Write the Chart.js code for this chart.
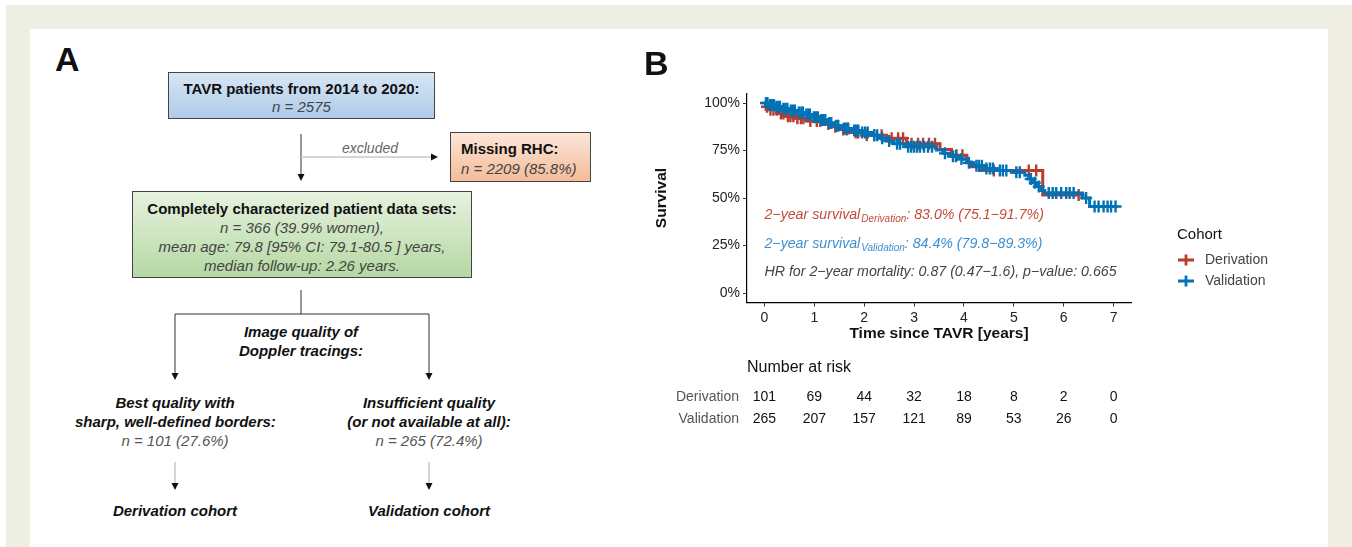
<!DOCTYPE html>
<html>
<head>
<meta charset="utf-8">
<script src="https://cdn.jsdelivr.net/npm/chart.js@4"></script>
<style>
  html, body { margin: 0; padding: 0; width: 1352px; height: 547px; overflow: hidden; background: #fff; }
  body { position: relative; font-family: 'Liberation Sans', Arial, sans-serif; }
  #frame { position: absolute; left: 6px; top: 5px; width: 1346px; height: 542px; background: #EEEEE3; }
  #panel { position: absolute; left: 30px; top: 29px; width: 1298px; height: 518px; background: #fff; }
  .abs { position: absolute; }
  .box { position: absolute; border: 1px solid #444; box-sizing: border-box; font-size: 15px; color: #111; }
  .box b { font-weight: bold; }
  .box i { color: #444; }
  .lbl { position: absolute; text-align: center; font-size: 15px; font-weight: bold; font-style: italic; color: #111; line-height: 19px; white-space: nowrap; }
  .lbl .n { font-weight: normal; color: #555; }
  #chartB { position: absolute; left: 640px; top: 30px; }
</style>
</head>
<body>
<div id="frame"></div>
<div id="panel"></div>

<!-- panel A: flow chart -->
<div class="abs" style="left:55px;top:40px;font-size:34px;font-weight:bold;color:#111;">A</div>

<div class="box" style="left:168px;top:72px;width:267px;height:47px;background:linear-gradient(#D7E6F5,#AECBE9);text-align:center;line-height:18px;padding-top:7px;">
  <b>TAVR patients from 2014 to 2020:</b><br><i>n = 2575</i>
</div>

<div class="box" style="left:450px;top:132px;width:141px;height:50px;background:linear-gradient(#FCE6D8,#F4BC9A);line-height:20px;padding-top:6px;padding-left:10px;">
  <b>Missing RHC:</b><br><i>n = 2209 (85.8%)</i>
</div>

<div class="box" style="left:132px;top:191px;width:340px;height:87px;background:linear-gradient(#E6F2DF,#B5D8A3);text-align:center;line-height:19px;padding-top:7px;">
  <b>Completely characterized patient data sets:</b><br>
  <i>n = 366 (39.9% women),</i><br>
  <i>mean age: 79.8 [95% CI: 79.1-80.5 ] years,</i><br>
  <i>median follow-up: 2.26 years.</i>
</div>

<svg class="abs" style="left:0;top:0;" width="640" height="547">
  <g stroke="#333" stroke-width="1" fill="none">
    <line x1="301" y1="134" x2="301" y2="174"/>
    <line x1="301" y1="290" x2="301" y2="314"/>
    <line x1="175" y1="314" x2="429" y2="314"/>
    <line x1="175" y1="314" x2="175" y2="373"/>
    <line x1="429" y1="314" x2="429" y2="373"/>
  </g>
  <g stroke="#C8C8C8" stroke-width="1.5" fill="none">
    <line x1="301" y1="157" x2="431" y2="157"/>
    <line x1="175" y1="462" x2="175" y2="483"/>
    <line x1="429" y1="462" x2="429" y2="483"/>
  </g>
  <g fill="#111">
    <polygon points="297.5,174 304.5,174 301,181"/>
    <polygon points="431,153.5 431,160.5 438,157"/>
    <polygon points="171.5,373 178.5,373 175,380"/>
    <polygon points="425.5,373 432.5,373 429,380"/>
    <polygon points="171.5,483 178.5,483 175,490"/>
    <polygon points="425.5,483 432.5,483 429,490"/>
  </g>
  <text x="370" y="153" text-anchor="middle" font-size="14" font-style="italic" fill="#666" font-family="Liberation Sans, Arial, sans-serif">excluded</text>
</svg>

<div class="lbl" style="left:201px;top:322px;width:200px;">Image quality of<br>Doppler tracings:</div>
<div class="lbl" style="left:75px;top:393px;width:200px;">Best quality with<br>sharp, well-defined borders:<br><span class="n">n = 101 (27.6%)</span></div>
<div class="lbl" style="left:329px;top:393px;width:200px;">Insufficient quality<br>(or not available at all):<br><span class="n">n = 265 (72.4%)</span></div>
<div class="lbl" style="left:75px;top:501px;width:200px;">Derivation cohort</div>
<div class="lbl" style="left:329px;top:501px;width:200px;">Validation cohort</div>

<!-- panel B: Kaplan-Meier chart -->
<canvas id="chartB" width="688" height="517"></canvas>

<script>
// Kaplan-Meier steps (time in years, survival after the step)
const derivTimes = [0, 0.04, 0.1, 0.28, 0.4, 0.62, 0.85, 1.2, 1.35, 1.5, 1.7, 1.95, 2.45, 2.85, 3.52, 3.75, 4.05, 4.15, 4.32, 5.58, 6.3];
const derivSurv  = [1.0, 0.98, 0.965, 0.945, 0.93, 0.92, 0.905, 0.89, 0.875, 0.86, 0.845, 0.83, 0.815, 0.785, 0.755, 0.725, 0.69, 0.665, 0.645, 0.516, 0.516];
const derivCensor = [0.05, 0.12, 0.18, 0.25, 0.33, 0.38, 0.47, 0.52, 0.58, 0.66, 0.73, 0.78, 0.92, 1.05, 1.12, 1.28, 1.42, 1.58, 1.65, 1.83, 1.88,
  2.05, 2.2, 2.35, 2.55, 2.68, 2.78, 2.95, 3.08, 3.18, 3.3, 3.42, 3.85, 3.97, 4.6, 5.3, 5.45, 6.3];

const validTimes = [0, 0.08, 0.2, 0.35, 0.5, 0.65, 0.8, 0.95, 1.1, 1.25, 1.4, 1.55, 1.75, 1.92, 2.15, 2.3, 2.45, 2.6, 2.8, 3.45, 3.58, 3.7,
  3.9, 4.05, 4.2, 4.4, 4.65, 4.95, 5.22, 5.3, 5.38, 5.46, 5.55, 5.62, 6.38, 6.52, 7.08];
const validSurv  = [1.0, 0.99, 0.98, 0.97, 0.96, 0.95, 0.94, 0.925, 0.91, 0.895, 0.88, 0.866, 0.855, 0.845, 0.83, 0.815, 0.8, 0.785, 0.77, 0.753, 0.735, 0.72,
  0.705, 0.685, 0.67, 0.655, 0.645, 0.635, 0.62, 0.6, 0.58, 0.56, 0.54, 0.526, 0.5, 0.455, 0.455];
const validCensor = [0.03, 0.06, 0.11, 0.15, 0.19, 0.24, 0.28, 0.31, 0.38, 0.42, 0.46, 0.53, 0.57, 0.61, 0.69, 0.74, 0.77, 0.84, 0.88, 0.91, 0.99,
  1.03, 1.07, 1.14, 1.18, 1.22, 1.3, 1.34, 1.44, 1.48, 1.6, 1.64, 1.68, 1.8, 1.84, 1.88, 1.96, 2.02, 2.07, 2.2, 2.26, 2.36, 2.5, 2.66, 2.72,
  2.88, 2.94, 3.0, 3.06, 3.12, 3.2, 3.28, 3.36, 3.62, 3.78, 3.84, 3.95, 4.1, 4.25, 4.3, 4.36, 4.45, 4.52, 4.58, 4.72, 4.78, 4.85, 5.05, 5.12,
  5.34, 5.42, 5.5, 5.7, 5.78, 5.85, 5.95, 6.05, 6.12, 6.2, 6.45, 6.62, 6.7, 6.8, 6.88, 6.95, 7.04];

const xTicks = [0, 1, 2, 3, 4, 5, 6, 7];
const yTicks = [0, 0.25, 0.5, 0.75, 1];

const riskTimes = [0, 1, 2, 3, 4, 5, 6, 7];
const riskDeriv = [101, 69, 44, 32, 18, 8, 2, 0];
const riskValid = [265, 207, 157, 121, 89, 53, 26, 0];

const derivColor = '#BC3C29';
const validColor = '#0072B5';
const fontFamily = "'Liberation Sans', Arial, sans-serif";

function stepPoints(times, surv) {
    return times.map((t, i) => ({ x: t, y: surv[i] }));
}

function survAt(times, surv, t) {
    let s = surv[0];
    for (let i = 0; i < times.length; i++) {
        if (times[i] <= t) s = surv[i];
    }
    return s;
}

function censorPoints(censor, times, surv) {
    return censor.map(t => ({ x: t, y: survAt(times, surv, t) }));
}

const extrasPlugin = {
    id: 'kmExtras',
    afterDraw(chart) {
        const ctx = chart.ctx;
        const area = chart.chartArea;
        const xs = chart.scales.x;
        const ys = chart.scales.y;
        ctx.save();

        // panel letter
        ctx.fillStyle = '#111';
        ctx.font = 'bold 34px ' + fontFamily;
        ctx.textAlign = 'left';
        ctx.textBaseline = 'alphabetic';
        ctx.fillText('B', 4, 45);

        // axis titles
        ctx.font = 'bold 15.5px ' + fontFamily;
        ctx.textAlign = 'center';
        ctx.textBaseline = 'middle';
        ctx.fillText('Time since TAVR [years]', (area.left + area.right) / 2, 304);
        ctx.save();
        ctx.translate(22, (area.top + area.bottom) / 2);
        ctx.rotate(-Math.PI / 2);
        ctx.fillText('Survival', 0, 0);
        ctx.restore();

        // annotations inside plot
        ctx.textAlign = 'left';
        const ax = xs.getPixelForValue(0);
        function subLine(y, color, main, sub, rest) {
            ctx.fillStyle = color;
            ctx.font = 'italic 14.2px ' + fontFamily;
            ctx.fillText(main, ax, y);
            let x = ax + ctx.measureText(main).width + 1;
            ctx.font = 'italic 10px ' + fontFamily;
            ctx.fillText(sub, x, y + 4);
            x += ctx.measureText(sub).width;
            ctx.font = 'italic 14.2px ' + fontFamily;
            ctx.fillText(rest, x, y);
        }
        subLine(ys.getPixelForValue(0.41), '#C24A3A', '2\u2212year survival', 'Derivation', ': 83.0% (75.1\u221291.7%)');
        subLine(ys.getPixelForValue(0.255), '#3D8FD2', '2\u2212year survival', 'Validation', ': 84.4% (79.8\u221289.3%)');
        ctx.fillStyle = '#444';
        ctx.font = 'italic 14.2px ' + fontFamily;
        ctx.fillText('HR for 2\u2212year mortality: 0.87 (0.47\u22121.6), p\u2212value: 0.665', ax, ys.getPixelForValue(0.11));

        // legend
        ctx.fillStyle = '#111';
        ctx.font = '15px ' + fontFamily;
        ctx.fillText('Cohort', 537, 205);
        [[derivColor, 'Derivation', 230], [validColor, 'Validation', 251]].forEach(([c, name, y]) => {
            ctx.strokeStyle = c;
            ctx.lineWidth = 2.8;
            ctx.beginPath();
            ctx.moveTo(538, y); ctx.lineTo(554, y);
            ctx.moveTo(546, y - 5.5); ctx.lineTo(546, y + 5.5);
            ctx.stroke();
            ctx.fillStyle = '#444';
            ctx.font = '14px ' + fontFamily;
            ctx.fillText(name, 565, y);
        });

        // number at risk table
        ctx.fillStyle = '#111';
        ctx.font = '16px ' + fontFamily;
        ctx.fillText('Number at risk', area.left, 338);
        [['Derivation', riskDeriv, 367], ['Validation', riskValid, 389]].forEach(([name, vals, y]) => {
            ctx.fillStyle = '#555';
            ctx.font = '14px ' + fontFamily;
            ctx.textAlign = 'right';
            ctx.fillText(name, area.left - 8, y);
            ctx.fillStyle = '#111';
            ctx.textAlign = 'center';
            vals.forEach((v, i) => ctx.fillText(String(v), xs.getPixelForValue(riskTimes[i]), y));
            ctx.textAlign = 'left';
        });

        ctx.restore();
    }
};

const axisCommon = {
    type: 'linear',
    border: { display: true, color: '#000', width: 1.2 },
    grid: { display: true, drawOnChartArea: false, drawTicks: true, tickLength: 4, tickColor: '#333', tickWidth: 1 },
    ticks: { color: '#222', font: { family: fontFamily, size: 14 } }
};

new Chart(document.getElementById('chartB'), {
    type: 'line',
    data: {
        datasets: [
            {
                label: 'Validation',
                data: stepPoints(validTimes, validSurv),
                borderColor: validColor,
                borderWidth: 3,
                stepped: 'before',
                pointRadius: 0,
                fill: false,
                order: 1
            },
            {
                label: 'Validation censored',
                data: censorPoints(validCensor, validTimes, validSurv),
                showLine: false,
                pointStyle: 'cross',
                pointRadius: 6,
                pointBorderWidth: 2.4,
                pointBorderColor: validColor,
                borderColor: validColor,
                order: 1
            },
            {
                label: 'Derivation',
                data: stepPoints(derivTimes, derivSurv),
                borderColor: derivColor,
                borderWidth: 3,
                stepped: 'before',
                pointRadius: 0,
                fill: false,
                order: 2
            },
            {
                label: 'Derivation censored',
                data: censorPoints(derivCensor, derivTimes, derivSurv),
                showLine: false,
                pointStyle: 'cross',
                pointRadius: 6,
                pointBorderWidth: 2.4,
                pointBorderColor: derivColor,
                borderColor: derivColor,
                order: 2
            }
        ]
    },
    options: {
        responsive: false,
        animation: false,
        devicePixelRatio: 1,
        layout: { padding: { left: 47, top: 63.5, right: 197, bottom: 204.5 } },
        plugins: { legend: { display: false }, tooltip: { enabled: false } },
        scales: {
            x: Object.assign({}, axisCommon, {
                min: -0.35, max: 7.35,
                ticks: Object.assign({}, axisCommon.ticks, { padding: 3, maxRotation: 0 }),
                afterBuildTicks: s => { s.ticks = xTicks.map(v => ({ value: v })); },
                afterFit: s => { s.height = 40; }
            }),
            y: Object.assign({}, axisCommon, {
                min: -0.05, max: 1.05,
                ticks: Object.assign({}, axisCommon.ticks, { padding: 3, callback: v => Math.round(v * 100) + '%' }),
                afterBuildTicks: s => { s.ticks = yTicks.map(v => ({ value: v })); },
                afterFit: s => { s.width = 60; }
            })
        }
    },
    plugins: [extrasPlugin]
});
</script>
</body>
</html>
